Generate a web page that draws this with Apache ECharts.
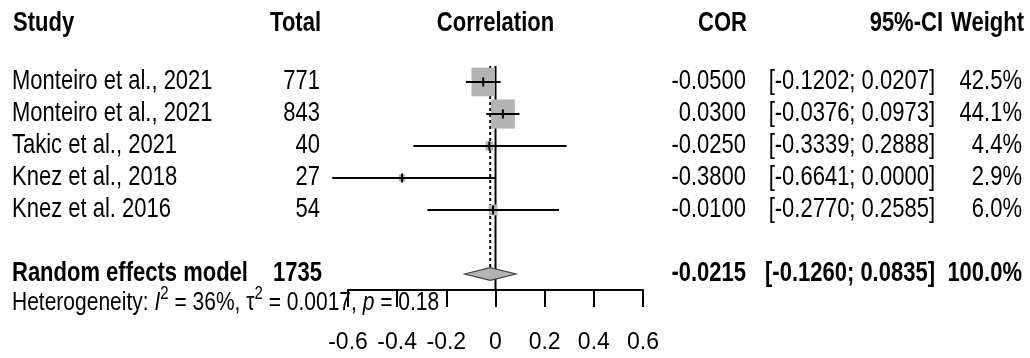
<!DOCTYPE html>
<html>
<head>
<meta charset="utf-8">
<script src="https://cdn.jsdelivr.net/npm/echarts@6/dist/echarts.min.js"></script>
<style>
html,body{margin:0;padding:0;background:#fff;}
#chart{width:1030px;height:358px;}
</style>
</head>
<body>
<div id="chart"></div>
<script>
// ---- data ----
const studies = ['Monteiro et al., 2021', 'Monteiro et al., 2021', 'Takic et al., 2021', 'Knez et al., 2018', 'Knez et al. 2016'];
const totals = [771, 843, 40, 27, 54];
const cor = [-0.0500, 0.0300, -0.0250, -0.3800, -0.0100];
const ciLower = [-0.1202, -0.0376, -0.3339, -0.6641, -0.2770];
const ciUpper = [0.0207, 0.0973, 0.2888, 0.0000, 0.2585];
const weights = [42.5, 44.1, 4.4, 2.9, 6.0];
const pooledLabel = 'Random effects model';
const pooledTotal = 1735;
const pooledCor = -0.0215;
const pooledLower = -0.1260;
const pooledUpper = 0.0835;
const pooledWeight = 100.0;
const hetI2 = '36%';
const hetTau2 = '0.0017';
const hetP = '0.18';
const headers = ['Study', 'Total', 'Correlation', 'COR', '95%-CI', 'Weight'];
const xTicks = [-0.6, -0.4, -0.2, 0, 0.2, 0.4, 0.6];

// ---- layout helpers ----
const FONT = '"Liberation Sans", Arial, sans-serif';
const SY = 1.22; // vertical stretch of the original rendering
const studyRows = studies.map((_, i) => i + 1);
const pooledRow = studies.length + 2;
const headerRow = -0.84;
const hetRow = pooledRow + 0.9;

const f4 = v => v.toFixed(4);
const ciText = (lo, hi) => '[' + f4(lo) + '; ' + f4(hi) + ']';

// table rows: each has a row position and cells
const tableRows = [];
tableRows.push({row: headerRow, cells: [
  {t: headers[0], x: 13, a: 'left', b: true},
  {t: headers[1], x: 321, a: 'right', b: true},
  {t: headers[2], x: 'zero', a: 'center', b: true},
  {t: headers[3], x: 747, a: 'right', b: true},
  {t: headers[4], x: 943, a: 'right', b: true},
  {t: headers[5], x: 1024, a: 'right', b: true}
]});
studies.forEach((s, i) => {
  tableRows.push({row: studyRows[i], cells: [
    {t: s, x: 12, a: 'left'},
    {t: String(totals[i]), x: 320, a: 'right'},
    {t: f4(cor[i]), x: 746, a: 'right'},
    {t: ciText(ciLower[i], ciUpper[i]), x: 935, a: 'right'},
    {t: weights[i].toFixed(1) + '%', x: 1022, a: 'right'}
  ]});
});
tableRows.push({row: pooledRow, cells: [
  {t: pooledLabel, x: 12, a: 'left', b: true},
  {t: String(pooledTotal), x: 322, a: 'right', b: true},
  {t: f4(pooledCor), x: 746, a: 'right', b: true},
  {t: ciText(pooledLower, pooledUpper), x: 935, a: 'right', b: true},
  {t: pooledWeight.toFixed(1) + '%', x: 1022, a: 'right', b: true}
]});
tableRows.push({row: hetRow, het: true});

const chart = echarts.init(document.getElementById('chart'), null, {renderer: 'canvas'});

const option = {
  animation: false,
  backgroundColor: '#fff',
  grid: {left: 348, right: 387, top: 66, bottom: 68, containLabel: false, outerBoundsMode: 'none'},
  xAxis: {
    type: 'value', min: xTicks[0], max: xTicks[xTicks.length - 1], interval: 0.2,
    position: 'bottom',
    splitLine: {show: false},
    axisLine: {show: true, onZero: false, lineStyle: {color: '#000', width: 2}},
    axisTick: {show: true, inside: false, length: 17, lineStyle: {color: '#000', width: 2}},
    axisLabel: {
      show: true, margin: 41, color: '#000', fontSize: 23, fontFamily: FONT,
      formatter: v => {
        const m = xTicks.find(t => Math.abs(t - v) < 1e-9);
        return m === undefined ? '' : String(m);
      }
    }
  },
  yAxis: {type: 'value', min: 0.5, max: pooledRow + 0.5, inverse: true, show: false},
  series: [
    { // zero line
      type: 'line', z: 1, symbol: 'none', silent: true,
      data: [[0, 0.5], [0, pooledRow + 0.5]],
      lineStyle: {color: '#000', width: 2}
    },
    { // pooled estimate dotted line
      type: 'line', z: 1, symbol: 'none', silent: true,
      data: [[pooledCor, 0.5], [pooledCor, pooledRow - 0.2]],
      lineStyle: {color: '#000', width: 2, type: [3, 3]}
    },
    { // weight boxes
      type: 'scatter', z: 2, silent: true,
      symbol: 'rect',
      data: cor.map((c, i) => [c, studyRows[i], weights[i]]),
      symbolSize: v => [3.6 * Math.sqrt(v[2]), 3.6 * SY * Math.sqrt(v[2])],
      itemStyle: {color: '#b4b4b4', opacity: 1}
    },
    { // confidence intervals + estimate ticks
      type: 'custom', z: 3, silent: true,
      data: cor.map((c, i) => [c, studyRows[i], ciLower[i], ciUpper[i]]),
      renderItem: (params, api) => {
        const est = api.coord([api.value(0), api.value(1)]);
        const lo = api.coord([api.value(2), api.value(1)]);
        const hi = api.coord([api.value(3), api.value(1)]);
        return {type: 'group', children: [
          {type: 'line', shape: {x1: lo[0], y1: lo[1], x2: hi[0], y2: hi[1]}, style: {stroke: '#000', lineWidth: 2}},
          {type: 'line', shape: {x1: est[0], y1: est[1] - 4.5, x2: est[0], y2: est[1] + 4.5}, style: {stroke: '#000', lineWidth: 2}}
        ]};
      }
    },
    { // pooled diamond
      type: 'custom', z: 4, silent: true,
      data: [[pooledCor, pooledRow, pooledLower, pooledUpper]],
      renderItem: (params, api) => {
        const r = api.value(1);
        const p1 = api.coord([api.value(2), r]);
        const p2 = api.coord([api.value(0), r - 0.2]);
        const p3 = api.coord([api.value(3), r]);
        const p4 = api.coord([api.value(0), r + 0.2]);
        return {type: 'polygon', shape: {points: [p1, p2, p3, p4]}, style: {fill: '#b4b4b4', stroke: '#404040', lineWidth: 1.2}};
      }
    },
    { // table text
      type: 'custom', z: 5, silent: true, clip: false,
      data: tableRows.map((r, i) => [0, r.row, i]),
      renderItem: (params, api) => {
        const info = tableRows[api.value(2)];
        const y = api.coord([0, api.value(1)])[1];
        const zeroX = api.coord([0, api.value(1)])[0];
        if (info.het) {
          return {type: 'text', x: 12, y: y, scaleY: SY, style: {
            text: '{n|Heterogeneity: }{i|I}{s|2}{n| = ' + hetI2 + ', τ}{s|2}{n| = ' + hetTau2 + ', }{i|p}{n| = ' + hetP + '}',
            align: 'left', verticalAlign: 'middle',
            rich: {
              n: {fontFamily: FONT, fontSize: 21, lineHeight: 30, fill: '#000', color: '#000'},
              i: {fontFamily: FONT, fontSize: 21, lineHeight: 30, fontStyle: 'italic', fill: '#000', color: '#000'},
              s: {fontFamily: FONT, fontSize: 15, lineHeight: 15, verticalAlign: 'top', fill: '#000', color: '#000'}
            }
          }};
        }
        return {type: 'group', children: info.cells.map(c => ({
          type: 'text', x: c.x === 'zero' ? zeroX : c.x, y: y, scaleY: SY,
          style: {
            text: c.t, align: c.a, verticalAlign: 'middle',
            fontFamily: FONT, fontSize: 22, fontWeight: c.b ? 'bold' : 'normal', fill: '#000'
          }
        }))};
      }
    }
  ]
};
chart.setOption(option);
</script>
</body>
</html>
